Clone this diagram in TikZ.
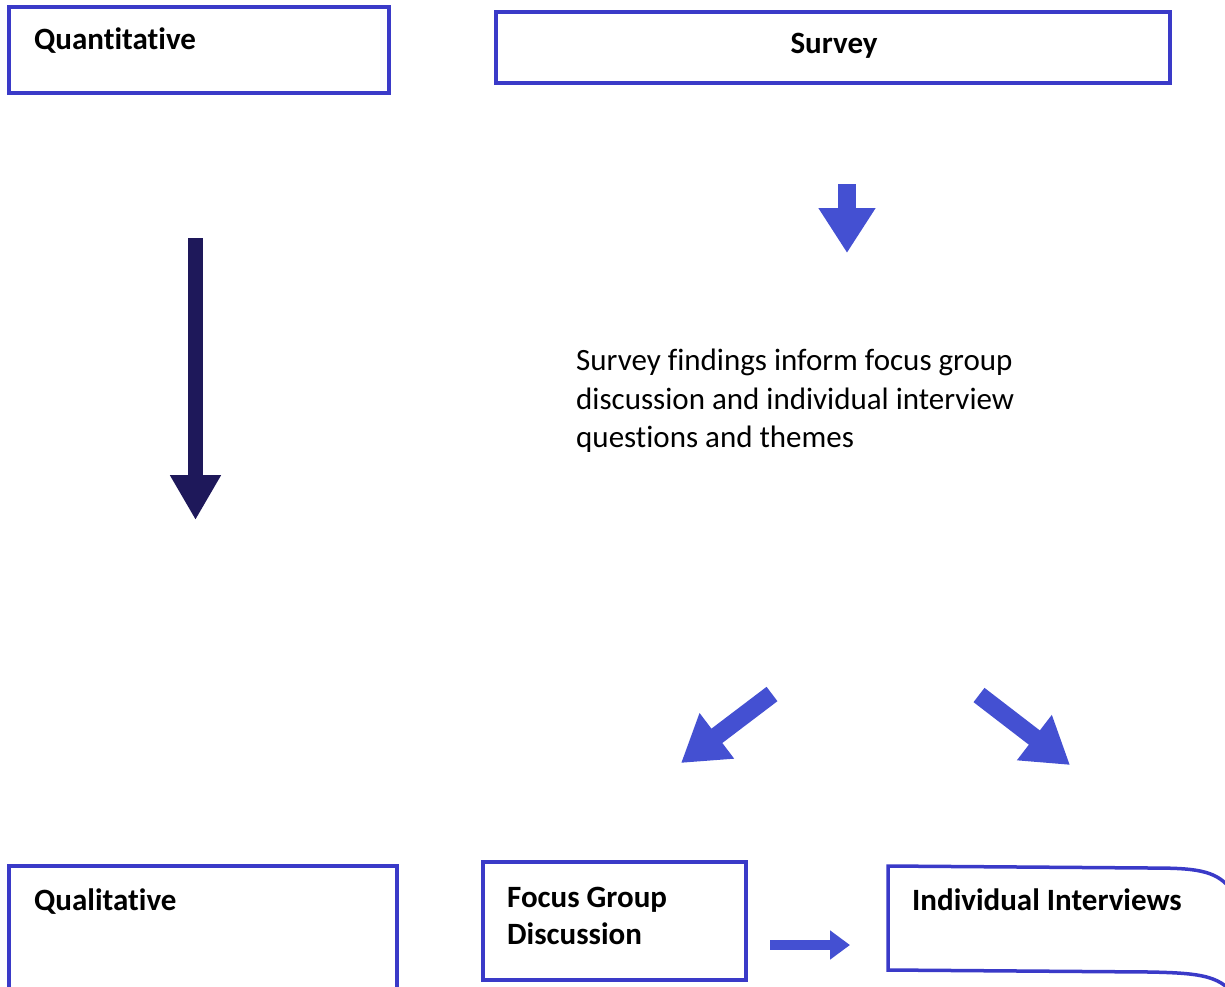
\documentclass[tikz,border=0pt]{standalone}
\usepackage{fontspec}
\setmainfont{Carlito}[Ligatures=NoCommon]
\usetikzlibrary{arrows.meta}
\definecolor{boxblue}{RGB}{58,58,200}
\definecolor{arrblue}{RGB}{68,80,210}
\definecolor{navy}{RGB}{30,24,90}
\begin{document}
\begin{tikzpicture}[x=1pt,y=-1pt,
  box/.style={draw=boxblue,line width=3.5pt},
  lbl/.style={anchor=base west,inner sep=0pt,font=\fontsize{31}{38}\selectfont\bfseries},
  body/.style={anchor=north west,inner sep=0pt,align=left,font=\fontsize{31}{38.5}\selectfont},
  barrow/.style={draw=arrblue,line width=18pt,-{Triangle[length=45pt,width=54pt]}},
  navyarrow/.style={draw=navy,line width=15pt,-{Triangle[length=45pt,width=48pt]}},
  smallarrow/.style={draw=arrblue,line width=10pt,-{Triangle[length=20pt,width=28pt]}}]
\useasboundingbox[fill=white] (0,0) rectangle (1225,986);
% boxes
\draw[box] (9,7) rectangle (389,93);
\node[lbl] (quant) at (34,49) {Quantitative};
\draw[box] (496,12) rectangle (1170,83);
\node[anchor=base,inner sep=0pt,font=\fontsize{31}{38}\selectfont\bfseries] (survey) at (834,53) {Survey};
\draw[box] (9,1000) -- (9,866) -- (397,866) -- (397,1000);
\node[lbl] (qual) at (34,910) {Qualitative};
\draw[box] (483,862) rectangle (746,980);
\node[lbl] (fg) at (507,907) {Focus Group};
\node[lbl] (fg2) at (507,944) {Discussion};
\draw[box] (1230,888) .. controls (1215,870) and (1195,868) .. (1150,868) -- (888,866) -- (888,970) -- (1150,972) .. controls (1195,973) and (1215,975) .. (1230,990);
\node[lbl] (ii) at (912,910) {Individual Interviews};
% body text
\node[body] (txt) at (576,349) {Survey findings inform focus group\\discussion and individual interview\\questions and themes};
% arrows
\coordinate (n1) at (195.5,238);
\coordinate (n2) at (195.5,520);
\draw[navyarrow] (n1) -- (n2);
\coordinate (s1) at (847,184);
\coordinate (s2) at (847,253);
\draw[barrow] (s1) -- (s2);
\coordinate (l1) at (772,694);
\coordinate (l2) at (681,763);
\draw[barrow] (l1) -- (l2);
\coordinate (r1) at (979,695);
\coordinate (r2) at (1070,765);
\draw[barrow] (r1) -- (r2);
\coordinate (h1) at (770,945);
\coordinate (h2) at (850,945);
\draw[smallarrow] (h1) -- (h2);
\end{tikzpicture}
\end{document}
